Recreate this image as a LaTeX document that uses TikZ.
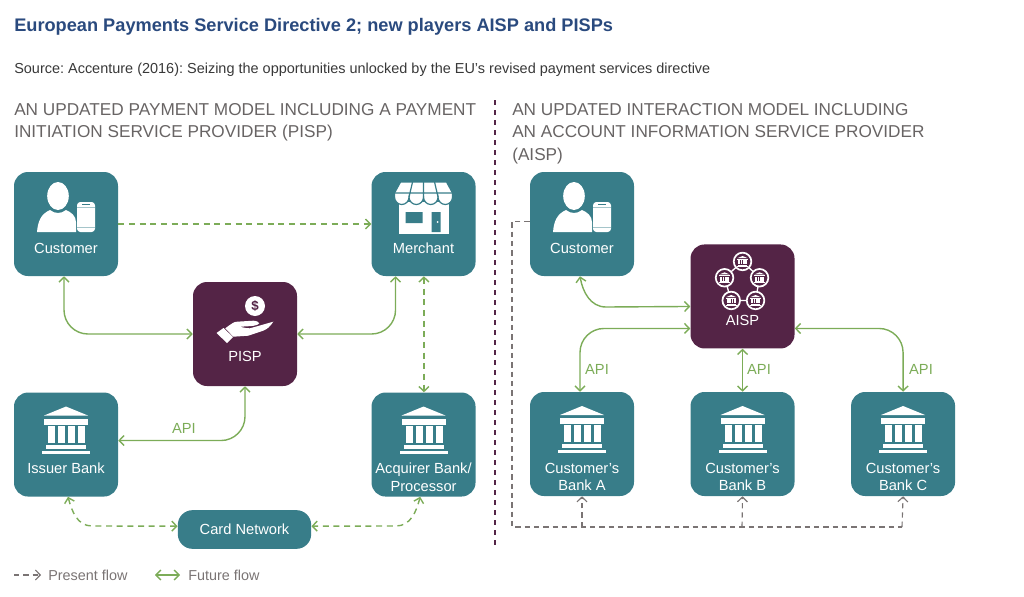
\documentclass[tikz,border=0pt]{standalone}
\usepackage{fontspec}
\setmainfont{Liberation Sans}
\usepackage{xcolor}
\usetikzlibrary{arrows.meta, positioning}
\definecolor{bankteal}{RGB}{56,125,137}
\definecolor{plum}{RGB}{84,36,70}
\definecolor{flowgreen}{RGB}{124,172,88}
\definecolor{flowgrey}{RGB}{122,116,116}
\definecolor{titleblue}{RGB}{42,74,126}
\definecolor{headgrey}{RGB}{104,100,100}

\tikzset{
    tilebox/.style={rectangle, rounded corners=10.5pt, fill=bankteal, minimum size=78pt, inner sep=0pt},
    tiletext/.style={text=white, align=center, font=\fontsize{11}{13}\selectfont},
    headtext/.style={anchor=north west, align=left, inner sep=0pt, text=headgrey, font=\fontsize{12.9}{16.8}\selectfont},
    apitext/.style={text=flowgreen, inner sep=0pt, font=\fontsize{11}{13}\selectfont},
    legendtext/.style={anchor=west, inner sep=0pt, text=flowgrey, font=\fontsize{10.8}{13}\selectfont},
    future/.style={draw=flowgreen, line width=1.05pt, {Straight Barb[length=3.6pt,width=7.5pt]}-{Straight Barb[length=3.6pt,width=7.5pt]}},
    present/.style={future, dash pattern=on 4.5pt off 3.5pt},
    presentgrey/.style={draw=flowgrey, line width=.85pt, dash pattern=on 4pt off 3pt},
    bankicon/.pic={
        \fill[white] (0,-38) -- (22,-29) -- (-22,-29) -- cycle;
        \fill[white] (-22,-26) rectangle (22,-20);
        \foreach \cx in {-18,-8,2,12}
            \fill[white] (\cx,-19) rectangle (\cx+7,-2);
        \fill[white] (-20,0) rectangle (20,4);
        \fill[white] (-24,6) rectangle (24,9);
    },
    personicon/.pic={
        \fill[white] (-8,-28) ellipse (10.8 and 14);
        \fill[white] (-29,8) .. controls (-28,-3) and (-25,-10) .. (-16,-14)
            .. controls (-11,-10) and (-5,-10) .. (0,-14)
            .. controls (5,-12) and (10,-8) .. (10,-2) -- (10,8) -- cycle;
        \fill[white, rounded corners=2.5pt] (11,-22) rectangle (29,8);
        \draw[bankteal!45, line width=.5pt] (11,-17) -- (29,-17) (11,3) -- (29,3);
        \draw[bankteal, line width=.6pt] (16,-19.5) -- (24,-19.5);
    },
    shopicon/.pic={
        \fill[white] (-25,-22) rectangle (25,10);
        \fill[bankteal] (-18,-12) rectangle (-1,-1) (8,-12) rectangle (17,8);
        \fill[white] (14,-2) circle (1);
        \filldraw[white, draw=bankteal, line width=.9pt] (-23,-42) -- (23,-42) -- (29,-31) -- (29,-27)
            arc (0:180:7.25 and 7.5) arc (0:180:7.25 and 7.5) arc (0:180:7.25 and 7.5) arc (0:180:7.25 and 7.5)
            -- (-29,-31) -- cycle;
        \draw[bankteal, line width=.9pt] (-29,-31) -- (29,-31)
            (-11,-42) -- (-14.5,-27) (11,-42) -- (14.5,-27) (0,-42) -- (0,-27);
    },
    handicon/.pic={
        \node[circle, fill=white, text=plum, inner sep=0pt, minimum size=15pt, font=\bfseries\fontsize{10}{10}\selectfont] (coin) at (10,-28) {\$};
        \fill[white] (-28.5,-1) -- (-21.5,-6) -- (-12,3) -- (-18,9) -- cycle;
        \fill[white] (-19.7,-5.7) .. controls (-14,-10) and (-11,-12.3) .. (-8,-12.3)
            -- (8.3,-13.3) .. controls (12,-13) and (14,-12) .. (14.3,-10.7)
            .. controls (12,-8) and (8,-8) .. (-5,-7.3)
            .. controls (0,-6) and (3,-5.5) .. (5,-5.7)
            -- (28.3,-12.3) .. controls (25,-7) and (22,-5) .. (18.3,-3.3)
            -- (3.3,1.7) -- (-11.7,2.7) -- cycle;
    },
    networkicon/.pic={
        \draw[white, line width=1pt] (0,-35) -- (-18,-18.7) -- (-11.3,4) -- (13,4) -- (17,-18.7) -- cycle;
        \foreach \cx/\cy in {0/-35, -18/-18.7, 17/-18.7, -11.3/4, 13/4} {
            \filldraw[fill=plum, draw=white, line width=1.3pt] (\cx,\cy) circle (8.8);
            \pic[scale=.23] at (\cx,\cy+3.3) {bankicon};
        }
    }
}

\begin{document}
\frenchspacing
\begin{tikzpicture}[x=.75pt, y=-.75pt]
\useasboundingbox (0,0) rectangle (1024,596);

% title lines
\node[anchor=west, inner sep=0pt, text=titleblue, font=\bfseries\fontsize{13.65}{16}\selectfont] (title) at (14,27) {European Payments Service Directive 2; new players AISP and PISPs};
\node[anchor=west, inner sep=0pt, text=black!78, font=\fontsize{10.85}{13}\selectfont] (source) at (14,70) {Source: Accenture (2016): Seizing the opportunities unlocked by the EU’s revised payment services directive};
\node[headtext] (headleft) at (14,103) {AN UPDATED PAYMENT MODEL INCLUDING A PAYMENT\\INITIATION SERVICE PROVIDER (PISP)};
\node[headtext] (headright) at (512,103) {AN UPDATED INTERACTION MODEL INCLUDING\\AN ACCOUNT INFORMATION SERVICE PROVIDER\\(AISP)};

% divider between the two models
\coordinate (divtop) at (495,100);
\coordinate (divbot) at (495,549);
\draw[plum, line width=1.2pt, dash pattern=on 3.75pt off 3.75pt] (divtop) -- (divbot);

% left model
\node[tilebox] (cust) at (66,224) {};
\node[tilebox, right=189.75pt of cust] (merch) {};
\node[tilebox, below=87pt of cust] (issuer) {};
\node[tilebox, below=87pt of merch] (acquirer) {};
\node[tilebox, fill=plum] (pisp) at (245,334) {};
\node[rectangle, rounded corners=11pt, fill=bankteal, minimum width=100pt, minimum height=29pt, inner sep=0pt, text=white, font=\fontsize{11}{13}\selectfont] (cardnet) at (244.5,529.5) {Card Network};

\pic at (cust.center) {personicon};
\pic at (merch.center) {shopicon};
\pic at (pisp.center) {handicon};
\pic at (issuer.center) {bankicon};
\pic at (acquirer.center) {bankicon};

\node[tiletext] (custtext) at ([yshift=-18pt]cust.center) {Customer};
\node[tiletext] (merchtext) at ([yshift=-18pt]merch.center) {Merchant};
\node[tiletext] (pisptext) at ([yshift=-17pt]pisp.center) {PISP};
\node[tiletext] (issuertext) at ([yshift=-18pt]issuer.center) {Issuer Bank};
\node[tiletext] (acquirertext) at ([yshift=-24.5pt]acquirer.center) {Acquirer Bank/\\Processor};

\draw[present, arrows=-{Straight Barb[length=3.6pt,width=7.5pt]}] (cust.east) -- (merch.west);
\draw[future, rounded corners=18pt] ([xshift=-1.5pt]cust.south) |- (pisp.west);
\draw[future, rounded corners=18pt] ([xshift=-21pt]merch.south) |- (pisp.east);
\draw[present] ([xshift=.3pt]merch.south) -- ([xshift=.3pt]acquirer.north);
\draw[future, rounded corners=18pt] (pisp.south) |- ([yshift=3pt]issuer.east);
\node[apitext] (apileft) at (184,428) {API};
\coordinate (cardbendw) at (92,526);
\coordinate (cardbende) at (396,526);
\draw[present] ([xshift=1.5pt]issuer.south) to[out=-75,in=180] (cardbendw) -- ([yshift=2.5pt]cardnet.west);
\draw[present] ([xshift=-2.5pt]acquirer.south) to[out=-105,in=0] (cardbende) -- ([yshift=2.5pt]cardnet.east);

% right model
\node[tilebox] (custb) at (582,224) {};
\node[tilebox] (banka) at (582,444) {};
\node[tilebox, right=42pt of banka] (bankb) {};
\node[tilebox, right=42pt of bankb] (bankc) {};
\node[tilebox, fill=plum, above=32.25pt of bankb] (aisp) {};

\pic at (custb.center) {personicon};
\pic at (aisp.center) {networkicon};
\foreach \bk in {banka,bankb,bankc}
    \pic at (\bk.center) {bankicon};

\node[tiletext] (custbtext) at ([yshift=-18pt]custb.center) {Customer};
\node[tiletext] (aisptext) at ([yshift=-18pt]aisp.center) {AISP};
\node[tiletext] (bankatext) at ([yshift=-24.5pt]banka.center) {Customer’s\\Bank A};
\node[tiletext] (bankbtext) at ([yshift=-24.5pt]bankb.center) {Customer’s\\Bank B};
\node[tiletext] (bankctext) at ([yshift=-24.5pt]bankc.center) {Customer’s\\Bank C};

\coordinate (custbbend) at (606,307);
\draw[future] ([xshift=-1.5pt]custb.south) to[out=-80,in=180] (custbbend) -- ([yshift=-7.5pt]aisp.west);
\draw[future, rounded corners=18pt] ([yshift=-24pt]aisp.west) -| ([xshift=-1.5pt]banka.north);
\draw[future] (aisp.south) -- (bankb.north);
\draw[future, rounded corners=18pt] ([yshift=-24pt]aisp.east) -| (bankc.north);
\node[apitext] (apia) at (597,369) {API};
\node[apitext] (apib) at (759,369) {API};
\node[apitext] (apic) at (921,369) {API};

% present flow from the customer down to the banks
\coordinate (busleft) at (512,527);
\coordinate (busright) at (902,527);
\draw[presentgrey] ([yshift=2pt]custb.west) -| (busleft) -- (busright);
\foreach \bk/\cx in {banka/582,bankb/742,bankc/902} {
    \coordinate (bus\bk) at (\cx,527);
    \draw[presentgrey, -{Straight Barb[length=3.6pt,width=7.5pt]}] (bus\bk) -- (\bk.south);
}

% legend
\coordinate (presa) at (14,575);
\coordinate (presb) at (41,575);
\coordinate (futa) at (155,575);
\coordinate (futb) at (180,575);
\draw[presentgrey, -{Straight Barb[length=3.6pt,width=7.5pt]}] (presa) -- (presb);
\draw[future] (futa) -- (futb);
\node[legendtext] (presenttext) at (48,575) {Present flow};
\node[legendtext] (futuretext) at (188,575) {Future flow};
\end{tikzpicture}
\end{document}
